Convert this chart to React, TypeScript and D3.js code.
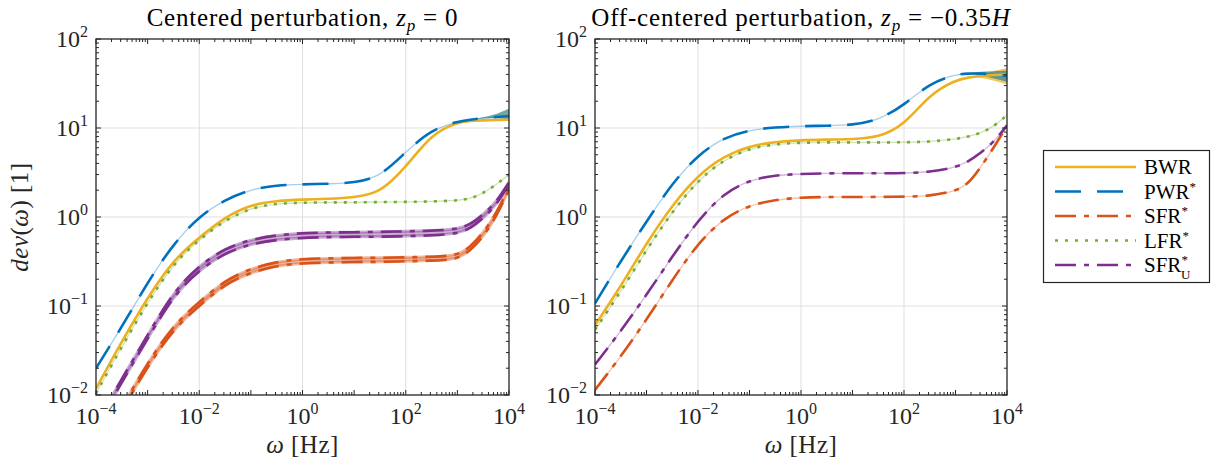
import React from 'react';
import * as d3 from 'd3';

// frequency grid (Hz), shared by every curve
const freq = [1e-4, 3.16e-4, 1e-3, 3.16e-3, 1e-2, 3.16e-2, 1e-1, 3.16e-1, 1, 3.16, 10, 31.6, 100, 316, 1000, 1778, 3162, 5623, 10000];
const tailFreq = [1000, 1778, 3162, 5623, 10000];

// left panel: centered perturbation
const leftBWR = [0.0118, 0.04, 0.125, 0.33, 0.59, 1.0, 1.38, 1.52, 1.57, 1.6, 1.66, 1.85, 3.6, 8.6, 11.6, 12.0, 12.2, 12.3, 12.4];
const leftPWR = [0.02, 0.058, 0.185, 0.5, 1.02, 1.57, 2.05, 2.28, 2.33, 2.36, 2.42, 2.8, 5.4, 9.6, 11.8, 12.4, 12.9, 13.3, 13.6];
const leftLFR = [0.0104, 0.035, 0.11, 0.3, 0.56, 0.92, 1.27, 1.42, 1.45, 1.46, 1.46, 1.47, 1.48, 1.49, 1.53, 1.6, 1.85, 2.3, 3.0];
const leftSFRuHi = [0.0047, 0.0152, 0.047, 0.145, 0.285, 0.445, 0.56, 0.625, 0.66, 0.67, 0.675, 0.68, 0.69, 0.7, 0.73, 0.82, 1.07, 1.45, 2.45];
const leftSFRuLo = [0.0043, 0.014, 0.043, 0.131, 0.255, 0.395, 0.5, 0.555, 0.585, 0.595, 0.6, 0.6, 0.61, 0.62, 0.65, 0.74, 0.97, 1.35, 2.35];
const leftSFRHi = [0.0023, 0.0073, 0.023, 0.061, 0.111, 0.195, 0.263, 0.315, 0.338, 0.343, 0.347, 0.348, 0.352, 0.357, 0.368, 0.46, 0.66, 1.08, 2.15];
const leftSFRLo = [0.0021, 0.0067, 0.021, 0.055, 0.101, 0.177, 0.238, 0.285, 0.303, 0.308, 0.313, 0.313, 0.318, 0.323, 0.333, 0.42, 0.6, 1.0, 2.05];
const leftPWRTailLo = [11.8, 12.4, 12.9, 12.9, 12.5];
const leftPWRTailHi = [11.8, 12.5, 13.2, 14.2, 16.5];

// right panel: off-centered perturbation
const rightBWR = [0.061, 0.165, 0.51, 1.36, 2.96, 4.8, 6.3, 7.0, 7.3, 7.4, 7.5, 7.8, 10.7, 24, 34.5, 37, 38.5, 39.5, 40];
const rightPWR = [0.107, 0.32, 0.89, 2.4, 5.0, 7.8, 9.5, 10.2, 10.5, 10.6, 10.8, 12.2, 18, 32, 40, 41, 41, 40, 38.5];
const rightLFR = [0.054, 0.145, 0.43, 1.15, 2.6, 4.4, 5.9, 6.6, 6.85, 6.9, 6.9, 6.9, 6.9, 7.0, 7.5, 8.0, 8.8, 10.5, 13.9];
const rightSFRu = [0.022, 0.052, 0.133, 0.36, 0.92, 1.85, 2.6, 2.95, 3.05, 3.1, 3.1, 3.1, 3.1, 3.2, 3.6, 4.2, 5.3, 7.0, 10.7];
const rightSFR = [0.0114, 0.027, 0.07, 0.196, 0.51, 0.97, 1.36, 1.56, 1.66, 1.68, 1.68, 1.68, 1.69, 1.72, 1.95, 2.35, 3.7, 6.1, 10.6];
const rightBWRTailLo = [34.5, 37, 37, 34, 31];
const rightBWRTailHi = [34.5, 37, 40, 44, 47];
const rightPWRTailLo = [40, 41, 39, 36, 33];
const rightPWRTailHi = [40, 41, 43, 43.5, 44];

const xTickExp = ['−4', '−2', '0', '2', '4'];
const yTickExp = ['−2', '−1', '0', '1', '2'];

const C = {
  bwr: '#EDB120',
  pwr: '#0072BD',
  sfr: '#D95319',
  lfr: '#77AC30',
  sfru: '#7E2F8E',
};
const DASH = { solid: '', dash: '26 16', dashdot: '21 8 5 8', dot: '3 7' };

const TOP = 39;
const BOTTOM = 395;
const FONT = '"Liberation Serif", "Times New Roman", serif';
const AXIS = '#262626';

type Curve = { vals: number[]; color: string; dash: string; width?: number };
type Band = { lo: number[]; hi: number[]; color: string; opacity: number; tail?: boolean };

function Panel(props: { id: string; x0: number; x1: number; title: React.ReactNode; curves: Curve[]; bands: Band[]; halos: Curve[]; yLabel?: boolean }) {
  const { id, x0, x1, curves, bands, halos } = props;
  const x = d3.scaleLog().domain([1e-4, 1e4]).range([x0, x1]);
  const y = d3.scaleLog().domain([1e-2, 1e2]).range([BOTTOM, TOP]);
  // smooth the half-decade samples
  const curve = d3.curveBasis;
  const line = d3.line<number>().x((_, i) => x(freq[i])).y((d) => y(d)).curve(curve);
  const area = (xs: number[]) =>
    d3.area<number>().x((_, i) => x(xs[i])).curve(curve);

  const xt = x.ticks();
  const yt = y.ticks();
  const isMajor = (v: number) => Math.abs(Math.log10(v) - Math.round(Math.log10(v))) < 1e-6;
  const xMajors = [1e-4, 1e-2, 1, 1e2, 1e4];
  const yMajors = [1e-2, 1e-1, 1, 1e1, 1e2];
  const cx = (x0 + x1) / 2;

  return (
    <g>
      <defs>
        <clipPath id={id}>
          <rect x={x0} y={TOP} width={x1 - x0} height={BOTTOM - TOP} />
        </clipPath>
      </defs>
      {/* grid */}
      {xMajors.slice(1, -1).map((v) => (
        <line key={'gx' + v} x1={x(v)} x2={x(v)} y1={TOP} y2={BOTTOM} stroke="#dfdfdf" strokeWidth={1} />
      ))}
      {yMajors.slice(1, -1).map((v) => (
        <line key={'gy' + v} x1={x0} x2={x1} y1={y(v)} y2={y(v)} stroke="#dfdfdf" strokeWidth={1} />
      ))}
      <g clipPath={`url(#${id})`}>
        {bands.map((b, i) => {
          const xs = b.tail ? tailFreq : freq;
          const a = area(xs).y0((_, j) => y(b.lo[j])).y1((d) => y(d));
          return <path key={'b' + i} d={a(b.hi) || ''} fill={b.color} fillOpacity={b.opacity} stroke={b.tail ? 'none' : b.color} strokeOpacity={b.opacity} strokeWidth={3} />;
        })}
        {halos.map((c, i) => (
          <path key={'h' + i} d={line(c.vals) || ''} fill="none" stroke={c.color} strokeOpacity={0.35} strokeWidth={1.3} />
        ))}
        {curves.map((c, i) => (
          <path key={'c' + i} d={line(c.vals) || ''} fill="none" stroke={c.color} strokeWidth={c.width ?? 2.6} strokeDasharray={c.dash} />
        ))}
      </g>
      {/* ticks */}
      {xt.map((v) => {
        const L = isMajor(v) ? 5 : 3;
        return (
          <g key={'xt' + v}>
            <line x1={x(v)} x2={x(v)} y1={BOTTOM} y2={BOTTOM - L} stroke={AXIS} />
            <line x1={x(v)} x2={x(v)} y1={TOP} y2={TOP + L} stroke={AXIS} />
          </g>
        );
      })}
      {yt.map((v) => {
        const L = isMajor(v) ? 5 : 3;
        return (
          <g key={'yt' + v}>
            <line x1={x0} x2={x0 + L} y1={y(v)} y2={y(v)} stroke={AXIS} />
            <line x1={x1} x2={x1 - L} y1={y(v)} y2={y(v)} stroke={AXIS} />
          </g>
        );
      })}
      <rect x={x0} y={TOP} width={x1 - x0} height={BOTTOM - TOP} fill="none" stroke={AXIS} strokeWidth={1.3} />
      {/* tick labels */}
      {xMajors.map((v, i) => (
        <text key={'xl' + v} x={x(v)} y={424} textAnchor="middle" fontFamily={FONT} fontSize={24} fill={AXIS}>
          <tspan>10</tspan>
          <tspan dy={-10} fontSize={16}>{xTickExp[i]}</tspan>
        </text>
      ))}
      {yMajors.map((v, i) => (
        <text key={'yl' + v} x={x0 - 8} y={y(v) + 8} textAnchor="end" fontFamily={FONT} fontSize={24} fill={AXIS}>
          <tspan>10</tspan>
          <tspan dy={-10} fontSize={16}>{yTickExp[i]}</tspan>
        </text>
      ))}
      {/* title and axis labels */}
      <text x={cx} y={26} textAnchor="middle" fontFamily={FONT} fontSize={25} letterSpacing={0.8} fill="#000">
        {props.title}
      </text>
      <text x={cx} y={453} textAnchor="middle" fontFamily={FONT} fontSize={25} letterSpacing={0.5} fill={AXIS}>
        <tspan fontStyle="italic">ω</tspan>
        <tspan> [Hz]</tspan>
      </text>
      {props.yLabel && (
        <text transform={`translate(28, ${(TOP + BOTTOM) / 2}) rotate(-90)`} textAnchor="middle" fontFamily={FONT} fontSize={25} letterSpacing={0.5} fill={AXIS}>
          <tspan fontStyle="italic">dev</tspan>
          <tspan>(</tspan>
          <tspan fontStyle="italic">ω</tspan>
          <tspan>) [1]</tspan>
        </text>
      )}
    </g>
  );
}

const legendItems = [
  { key: 'BWR', color: C.bwr, dash: DASH.solid },
  { key: 'PWR', color: C.pwr, dash: DASH.dash },
  { key: 'SFR', color: C.sfr, dash: DASH.dashdot },
  { key: 'LFR', color: C.lfr, dash: DASH.dot },
  { key: 'SFRu', color: C.sfru, dash: DASH.dashdot },
];

function LegendLabel({ k }: { k: string }) {
  if (k === 'BWR') return <tspan>BWR</tspan>;
  if (k === 'SFRu')
    return (
      <>
        <tspan>SFR</tspan>
        <tspan dy={-8} fontSize={13}>*</tspan>
        <tspan dx={-7} dy={15} fontSize={13}>U</tspan>
      </>
    );
  return (
    <>
      <tspan>{k}</tspan>
      <tspan dy={-8} fontSize={13}>*</tspan>
    </>
  );
}

export default function App() {
  return (
    <svg width={1213} height={461} style={{ display: 'block', position: 'absolute', left: 0, top: 0, background: '#fff' }}>
      <rect width={1213} height={461} fill="#fff" />
      <Panel
        id="clipL"
        x0={96}
        x1={509}
        yLabel
        title={
          <>
            <tspan>Centered perturbation, </tspan>
            <tspan fontStyle="italic">z</tspan>
            <tspan fontStyle="italic" fontSize={17} dy={5}>p</tspan>
            <tspan dy={-5}> = 0</tspan>
          </>
        }
        bands={[
          { lo: leftSFRLo, hi: leftSFRHi, color: C.sfr, opacity: 0.4 },
          { lo: leftSFRuLo, hi: leftSFRuHi, color: C.sfru, opacity: 0.4 },
          { lo: leftPWRTailLo, hi: leftPWRTailHi, color: '#3f8a8a', opacity: 0.75, tail: true },
        ]}
        halos={[
          { vals: leftPWR, color: C.pwr, dash: '' },
          { vals: leftLFR, color: C.lfr, dash: '' },
        ]}
        curves={[
          { vals: leftBWR, color: C.bwr, dash: DASH.solid },
          { vals: leftPWR, color: C.pwr, dash: DASH.dash },
          { vals: leftSFRHi, color: C.sfr, dash: DASH.dashdot },
          { vals: leftSFRLo, color: C.sfr, dash: DASH.dashdot },
          { vals: leftLFR, color: C.lfr, dash: DASH.dot },
          { vals: leftSFRuHi, color: C.sfru, dash: DASH.dashdot },
          { vals: leftSFRuLo, color: C.sfru, dash: DASH.dashdot },
        ]}
      />
      <Panel
        id="clipR"
        x0={595}
        x1={1007}
        title={
          <>
            <tspan>Off-centered perturbation, </tspan>
            <tspan fontStyle="italic">z</tspan>
            <tspan fontStyle="italic" fontSize={17} dy={5}>p</tspan>
            <tspan dy={-5}> = −0.35</tspan>
            <tspan fontStyle="italic">H</tspan>
          </>
        }
        bands={[
          { lo: rightBWRTailLo, hi: rightBWRTailHi, color: C.bwr, opacity: 0.7, tail: true },
          { lo: rightPWRTailLo, hi: rightPWRTailHi, color: '#3f8a9a', opacity: 0.8, tail: true },
        ]}
        halos={[
          { vals: rightPWR, color: C.pwr, dash: '' },
          { vals: rightSFR, color: C.sfr, dash: '' },
          { vals: rightLFR, color: C.lfr, dash: '' },
          { vals: rightSFRu, color: C.sfru, dash: '' },
        ]}
        curves={[
          { vals: rightBWR, color: C.bwr, dash: DASH.solid },
          { vals: rightPWR, color: C.pwr, dash: DASH.dash },
          { vals: rightSFR, color: C.sfr, dash: DASH.dashdot },
          { vals: rightLFR, color: C.lfr, dash: DASH.dot },
          { vals: rightSFRu, color: C.sfru, dash: DASH.dashdot },
        ]}
      />
      {/* legend */}
      <g>
        <rect x={1043.5} y={150.5} width={166} height={132} fill="#fff" stroke={AXIS} strokeWidth={1.2} />
        {legendItems.map((it, i) => {
          const yy = 167 + i * 24.5;
          return (
            <g key={it.key}>
              <line x1={1055} x2={1136} y1={yy} y2={yy} stroke={it.color} strokeWidth={2.6} strokeDasharray={it.dash} />
              <text x={1144} y={yy + 7} fontFamily={FONT} fontSize={21} fill="#000">
                <LegendLabel k={it.key} />
              </text>
            </g>
          );
        })}
      </g>
    </svg>
  );
}
